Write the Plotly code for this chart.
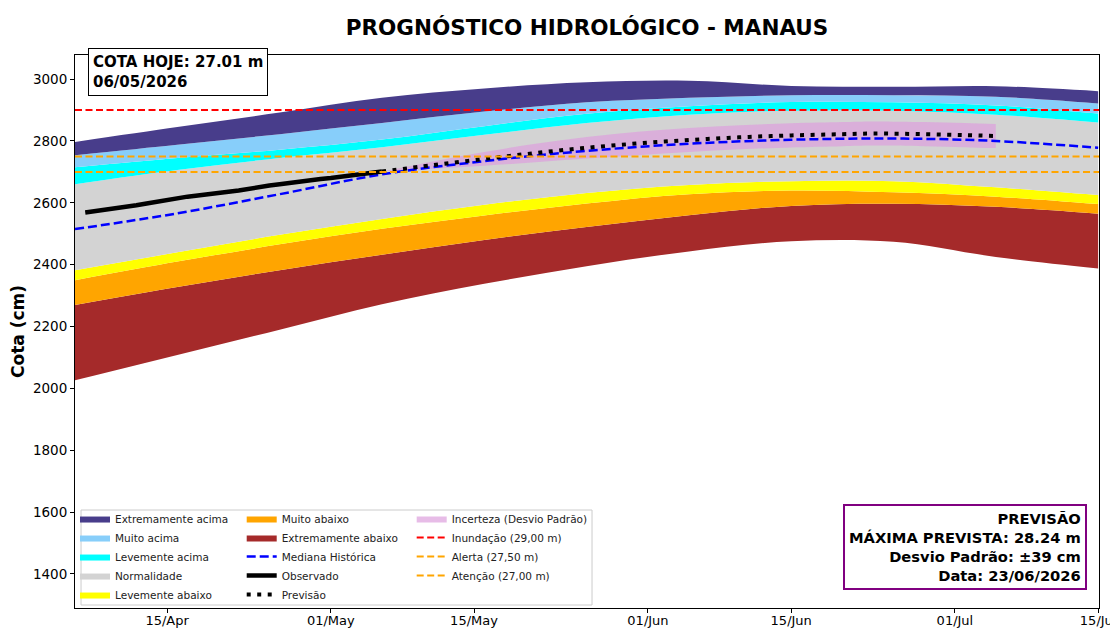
import plotly.graph_objects as go

# ---- dados (cm) ----
band_dates = ["2026-04-06", "2026-04-16", "2026-04-26", "2026-05-06", "2026-05-16", "2026-05-26",
              "2026-06-05", "2026-06-15", "2026-06-25", "2026-07-05", "2026-07-15"]
lim_min = [2026, 2108, 2190, 2272, 2338, 2395, 2443, 2476, 2474, 2425, 2388]
lim_ext_abaixo = [2270, 2328, 2382, 2432, 2480, 2522, 2560, 2590, 2597, 2587, 2565]
lim_muito_abaixo = [2350, 2410, 2466, 2516, 2559, 2598, 2628, 2640, 2634, 2620, 2596]
lim_lev_abaixo = [2382, 2440, 2497, 2548, 2594, 2632, 2658, 2670, 2670, 2650, 2625]
lim_normal = [2660, 2706, 2745, 2780, 2820, 2858, 2885, 2898, 2898, 2885, 2860]
lim_lev_acima = [2715, 2745, 2772, 2805, 2848, 2888, 2912, 2926, 2925, 2915, 2889]
lim_muito_acima = [2754, 2788, 2822, 2858, 2895, 2925, 2940, 2948, 2948, 2943, 2921]
lim_ext_acima = [2797, 2845, 2892, 2940, 2970, 2990, 2995, 2978, 2975, 2977, 2961]
mediana = [2515, 2566, 2628, 2692, 2735, 2768, 2791, 2804, 2808, 2800, 2778]

obs_dates = ["2026-04-07", "2026-04-08", "2026-04-09", "2026-04-10", "2026-04-11", "2026-04-12",
             "2026-04-13", "2026-04-14", "2026-04-15", "2026-04-16", "2026-04-17", "2026-04-18",
             "2026-04-19", "2026-04-20", "2026-04-21", "2026-04-22", "2026-04-23", "2026-04-24",
             "2026-04-25", "2026-04-26", "2026-04-27", "2026-04-28", "2026-04-29", "2026-04-30",
             "2026-05-01", "2026-05-02", "2026-05-03", "2026-05-04", "2026-05-05", "2026-05-06"]
obs_vals = [2569, 2573, 2577, 2582, 2586, 2592, 2598, 2604, 2611, 2616, 2620, 2624,
            2627, 2631, 2636, 2640, 2646, 2652, 2656, 2660, 2665, 2669, 2673, 2677,
            2680, 2684, 2688, 2693, 2697, 2701]

fc_dates = ["2026-05-06", "2026-05-11", "2026-05-16", "2026-05-21", "2026-05-26", "2026-05-31",
            "2026-06-05", "2026-06-10", "2026-06-15", "2026-06-20", "2026-06-23", "2026-06-28",
            "2026-07-02", "2026-07-05"]
fc_vals = [2701, 2722, 2742, 2761, 2778, 2792, 2803, 2812, 2818, 2822, 2824, 2822, 2819, 2816]
fc_std = [0, 12, 22, 30, 35, 38, 39, 39, 39, 39, 39, 39, 39, 39]

cota_inundacao = 2900
cota_alerta = 2750
cota_atencao = 2700

tick_dates = ["2026-04-15", "2026-05-01", "2026-05-15", "2026-06-01", "2026-06-15", "2026-07-01", "2026-07-15"]
x_range = ["2026-04-06", "2026-07-15 02:00"]

FONT = "DejaVu Sans"

fig = go.Figure()

# base invisível da primeira faixa
fig.add_trace(go.Scatter(x=band_dates, y=lim_min, mode="lines", line=dict(width=0, shape="spline"),
                         showlegend=False, hoverinfo="skip"))

faixas = [
    (lim_ext_abaixo, "Extremamente abaixo", "#A52A2A", "legend2", 2),
    (lim_muito_abaixo, "Muito abaixo", "#FFA500", "legend2", 1),
    (lim_lev_abaixo, "Levemente abaixo", "#FFFF00", "legend", 5),
    (lim_normal, "Normalidade", "#D3D3D3", "legend", 4),
    (lim_lev_acima, "Levemente acima", "#00FFFF", "legend", 3),
    (lim_muito_acima, "Muito acima", "#87CEFA", "legend", 2),
    (lim_ext_acima, "Extremamente acima", "#483D8B", "legend", 1),
]
for vals, nome, cor, leg, rank in faixas:
    fig.add_trace(go.Scatter(
        x=band_dates, y=vals, mode="lines", name=nome,
        line=dict(width=0, shape="spline"), fill="tonexty", fillcolor=cor,
        legend=leg, legendrank=rank,
    ))

# incerteza (desvio padrão)
fc_low = [v - s for v, s in zip(fc_vals, fc_std)]
fc_high = [v + s for v, s in zip(fc_vals, fc_std)]
fig.add_trace(go.Scatter(x=fc_dates, y=fc_low, mode="lines", line=dict(width=0, shape="spline"),
                         showlegend=False, hoverinfo="skip"))
fig.add_trace(go.Scatter(
    x=fc_dates, y=fc_high, mode="lines", name="Incerteza (Desvio Padrão)",
    line=dict(width=0, shape="spline"), fill="tonexty", fillcolor="rgba(221,160,221,0.7)",
    legend="legend3", legendrank=1,
))

fig.add_trace(go.Scatter(
    x=band_dates, y=mediana, mode="lines", name="Mediana Histórica",
    line=dict(color="blue", width=2.5, dash="9px,4px", shape="spline"),
    legend="legend2", legendrank=3,
))
fig.add_trace(go.Scatter(
    x=obs_dates, y=obs_vals, mode="lines", name="Observado",
    line=dict(color="black", width=4.5), legend="legend2", legendrank=4,
))
fig.add_trace(go.Scatter(
    x=fc_dates, y=fc_vals, mode="lines", name="Previsão",
    line=dict(color="black", width=4, dash="4px,6.5px", shape="spline"),
    legend="legend2", legendrank=5,
))

for valor, nome, cor, rank in [
    (cota_inundacao, "Inundação (29,00 m)", "red", 2),
    (cota_alerta, "Alerta (27,50 m)", "orange", 3),
    (cota_atencao, "Atenção (27,00 m)", "orange", 4),
]:
    fig.add_trace(go.Scatter(
        x=x_range, y=[valor, valor], mode="lines", name=nome,
        line=dict(color=cor, width=2, dash="7px,3.5px"),
        legend="legend3", legendrank=rank,
    ))

leg_common = dict(
    bgcolor="rgba(0,0,0,0)", borderwidth=0, font=dict(family=FONT, size=10.5, color="#222"),
    yanchor="top", y=0.188, xanchor="left", itemwidth=30, traceorder="normal",
)
fig.update_layout(
    legend=dict(x=0.0, **leg_common),
    legend2=dict(x=0.1628, **leg_common),
    legend3=dict(x=0.3288, **leg_common),
)

# moldura da legenda
fig.add_shape(type="rect", xref="paper", yref="paper", x0=0.0059, x1=0.5049, y0=0.0054, y1=0.1772,
              fillcolor="rgba(255,255,255,0.8)", line=dict(color="#cccccc", width=1), layer="above")

fig.add_annotation(
    xref="paper", yref="paper", x=0.0127, y=1.0127, xanchor="left", yanchor="top",
    text="<b>COTA HOJE: 27.01 m<br>06/05/2026</b>", align="left", showarrow=False,
    font=dict(family=FONT, size=15, color="black"),
    bgcolor="white", bordercolor="black", borderwidth=1, borderpad=4,
)
fig.add_annotation(
    xref="paper", yref="paper", x=0.9883, y=0.0325, xanchor="right", yanchor="bottom",
    text="<b>PREVISÃO<br>MÁXIMA PREVISTA: 28.24 m<br>Desvio Padrão: ±39 cm<br>Data: 23/06/2026</b>",
    align="right", showarrow=False,
    font=dict(family=FONT, size=14.7, color="black"),
    bgcolor="white", bordercolor="purple", borderwidth=2, borderpad=4,
)

# a página tem margem de 8px no body: compensar
fig.update_layout(
    width=1110, height=621,
    margin=dict(l=67, r=19, t=47, b=21),
    paper_bgcolor="white", plot_bgcolor="white",
    title=dict(text="<b>PROGNÓSTICO HIDROLÓGICO - MANAUS</b>", x=0.5, xref="paper",
               y=1 - 19 / 621, yanchor="middle", font=dict(family=FONT, size=21.5, color="black")),
    font=dict(family=FONT, color="black"),
)
fig.update_xaxes(
    range=x_range, tickvals=tick_dates, tickformat="%d/%b", automargin=False,
    showgrid=False, zeroline=False, showline=True, linecolor="black", linewidth=1, mirror=True,
    ticks="outside", ticklen=4, tickcolor="black", tickfont=dict(family=FONT, size=13),
    ticklabelstandoff=-4,
)
fig.update_yaxes(
    range=[1290, 3078], dtick=200, tick0=0, automargin=False,
    showgrid=False, zeroline=False, showline=True, linecolor="black", linewidth=1, mirror=True,
    ticks="outside", ticklen=4, tickcolor="black", tickfont=dict(family=FONT, size=13.5),
    title=dict(text="<b>Cota (cm)</b>", font=dict(family=FONT, size=17), standoff=8),
)

fig.write_html("out.html")
